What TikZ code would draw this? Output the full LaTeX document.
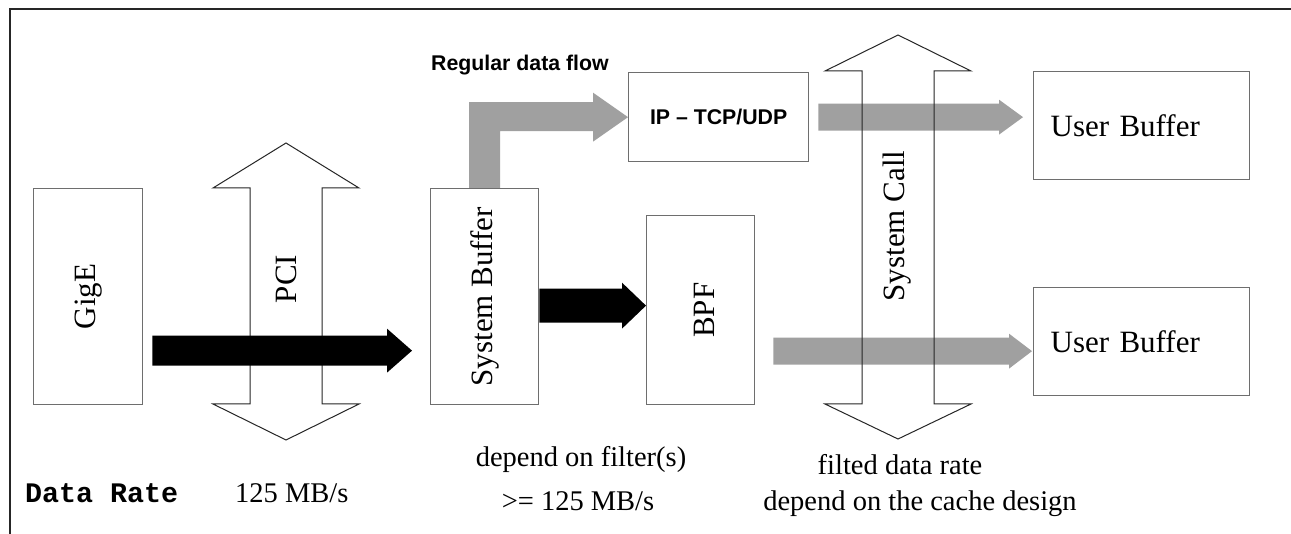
\documentclass[tikz,border=0pt]{standalone}
\usepackage{fontspec}
\usepackage{graphicx}
\setmainfont{Liberation Serif}
\newfontfamily\sansb{Liberation Sans}
\newfontfamily\monob{Liberation Mono}
\usetikzlibrary{calc}
\definecolor{boxgray}{HTML}{6E6E6E}
\definecolor{flowgray}{HTML}{A0A0A0}
\newcommand\blockarr[6]{%
  \fill[#6] ($(#1)+(0,-#3)$) -- ($(#2)+(-#5,-#3)$) -- ($(#2)+(-#5,-#4)$) -- (#2)
    -- ($(#2)+(-#5,#4)$) -- ($(#2)+(-#5,#3)$) -- ($(#1)+(0,#3)$) -- cycle;}
\begin{document}
\begin{tikzpicture}[x=1pt,y=-1pt,
  box/.style={draw=boxgray,line width=1.3pt,fill=white,inner sep=0pt,anchor=north west,
    font=\fontsize{31}{36}\selectfont},
  outl/.style={draw=black!85,line width=1pt},
  bigtxt/.style={inner sep=0pt,font=\fontsize{31}{36}\selectfont},
  lowtxt/.style={inner sep=0pt,font=\fontsize{28.5}{33}\selectfont},
]
\useasboundingbox (0,0) rectangle (1291,534);
\fill[white] (0,0) rectangle (1291,534);
\draw[line width=1.4pt,black!85] (10,534) -- (10,9) -- (1291,9);

% PCI double arrow
\draw[outl] (286,143) -- (359,188) -- (322,188) -- (322,404) -- (359,404) -- (286,440)
  -- (213,404) -- (250,404) -- (250,188) -- (213,188) -- cycle;
\node[bigtxt] (pci) at (286,279) {\rotatebox{90}{PCI}};

% boxes
\node[box,minimum width=109pt,minimum height=216pt] (gige) at (33,188) {\rotatebox{90}{GigE}};
\node[box,minimum width=108pt,minimum height=216pt] (sysbuf) at (430,188) {\rotatebox{90}{System Buffer}};
\node[box,minimum width=108pt,minimum height=189pt] (bpf) at (646,215) {\hspace*{8pt}\rotatebox{90}{BPF}};
\node[box,minimum width=180pt,minimum height=89pt,font=\sansb\bfseries\fontsize{21.3}{25}\selectfont] (ip) at (628,72) {IP – TCP/UDP};
\node[box,minimum height=108pt,text width=182pt,align=left,inner xsep=17pt] (ub1) at (1033,71) {User Buffer};
\node[box,minimum height=108pt,text width=182pt,align=left,inner xsep=17pt] (ub2) at (1033,287) {User Buffer};

% black flows
\coordinate (g1) at ([xshift=9pt,yshift=-54pt]gige.east);
\coordinate (g2) at ($(g1 -| sysbuf.west)+(-18,0)$);
\blockarr{g1}{g2}{15}{22}{25}{black}
\coordinate (s1) at ([yshift=-9pt]sysbuf.east);
\coordinate (s2) at (s1 -| bpf.west);
\blockarr{s1}{s2}{17}{23}{24}{black}

% gray flows
\coordinate (bt) at (ip.west);
\coordinate (bs) at (sysbuf.north);
\fill[flowgray] ($(bs)+(-15.5,0)$) -- ($(bs |- bt)+(-15.5,-15)$) -- ($(bt)+(-35,-15)$)
  -- ($(bt)+(-35,-24.5)$) -- (bt) -- ($(bt)+(-35,24.5)$) -- ($(bt)+(-35,14)$)
  -- ($(bs |- bt)+(15.5,14)$) -- ($(bs)+(15.5,0)$) -- cycle;
\coordinate (i1) at ([xshift=9pt]ip.east);
\coordinate (i2) at ($(i1 -| ub1.west)+(-10,0)$);
\blockarr{i1}{i2}{13.5}{17.5}{24}{flowgray}
\coordinate (b1) at ([xshift=18pt,yshift=-41pt]bpf.east);
\coordinate (b2) at ($(b1 -| ub2.west)+(-1,0)$);
\blockarr{b1}{b2}{13.5}{17.5}{23}{flowgray}

% System Call double arrow
\draw[outl] (898,35) -- (971,71) -- (934,71) -- (934,404) -- (971,404) -- (898,439)
  -- (825,404) -- (862,404) -- (862,71) -- (825,71) -- cycle;
\node[bigtxt] (sc) at (897,226) {\rotatebox{90}{System Call}};

% texts
\node[anchor=base west,inner sep=0pt,font=\sansb\bfseries\fontsize{21.3}{25}\selectfont] (rdf) at (431,71) {Regular data flow};
\node[anchor=base west,inner sep=0pt,font=\monob\bfseries\fontsize{28.3}{32}\selectfont] (dr) at (25,503) {Data Rate};
\node[lowtxt,anchor=base west] (r1) at (235,503) {125 MB/s};
\node[lowtxt,anchor=base] (t1) at (581,467) {depend on filter(s)};
\node[lowtxt,anchor=base] (t2) at (578,511) {>= 125 MB/s};
\node[lowtxt,anchor=base] (t3) at (900,475) {filted data rate};
\node[lowtxt,anchor=base] (t4) at (920,510) {depend on the cache design};
\end{tikzpicture}
\end{document}
